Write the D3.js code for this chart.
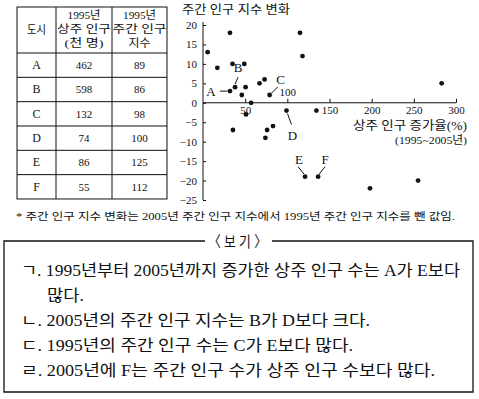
<!DOCTYPE html>
<html><head><meta charset="utf-8">
<script src="https://cdn.jsdelivr.net/npm/d3@7"></script>
<style>
html,body{margin:0;padding:0;background:#fff;}
svg{display:block;}
text{font-family:"Liberation Serif","Noto Sans CJK KR",serif;fill:#111;}
</style></head>
<body>
<svg id="c" width="479" height="399"></svg>
<script>
// ---- data ----
const cities = ["A","B","C","D","E","F"];
const residentPop1995 = [462,598,132,74,86,55];
const dayIndex1995 = [89,86,98,100,125,112];
const tableHeaders = [["도시"],["1995년","상주 인구","(천 명)"],["1995년","주간 인구","지수"]];

// scatter: x = resident population growth rate (%), y = change of day index
const growthRate = [5.5,17,32,35,49,32,38,46,50.5,57,51,35.5,67,73,79,83,76,74,99,115,118,134.5,121,136.5,198,255,283];
const indexChange = [13,9,18,10,10,3,4,2,4,0,-3,-7,5,6,2,-6,-7,-9,-2,18,12,-2,-19,-19,-22,-20,5];
// labelled points: index into arrays
const labelled = [{name:"A",i:5},{name:"B",i:6},{name:"C",i:14},{name:"D",i:18},{name:"E",i:22},{name:"F",i:23}];

const xTicks = [50,100,150,200,250,300];
const yTicks = [20,15,10,5,0,-5,-10,-15,-20,-25];

const chartTitle = "주간 인구 지수 변화";
const xTitle1 = "상주 인구 증가율(%)";
const xTitle2 = "(1995~2005년)";
const footnote = "* 주간 인구 지수 변화는 2005년 주간 인구 지수에서 1995년 주간 인구 지수를 뺀 값임.";
const boxTitle = "〈 보 기 〉";
const boxLines = [
  "ㄱ. 1995년부터 2005년까지 증가한 상주 인구 수는 A가 E보다",
  "많다.",
  "ㄴ. 2005년의 주간 인구 지수는 B가 D보다 크다.",
  "ㄷ. 1995년의 주간 인구 수는 C가 E보다 많다.",
  "ㄹ. 2005년에 F는 주간 인구 수가 상주 인구 수보다 많다."
];

const svg = d3.select("#c");
function fit(sel, w){ sel.attr("textLength",w).attr("lengthAdjust","spacingAndGlyphs"); return sel; }

// ---- table ----
const colX = [17,56,112,167];
const rowY = [7,53];
for(let k=1;k<=6;k++) rowY.push(53 + k*24.33);
const tg = svg.append("g");
tg.append("rect").attr("x",colX[0]).attr("y",rowY[0]).attr("width",colX[3]-colX[0]).attr("height",rowY[7]-rowY[0])
  .attr("fill","none").attr("stroke","#111").attr("stroke-width",1);
colX.slice(1,3).forEach(x=>tg.append("line").attr("x1",x).attr("x2",x).attr("y1",rowY[0]).attr("y2",rowY[7]).attr("stroke","#111"));
rowY.slice(1,7).forEach(y=>tg.append("line").attr("x1",colX[0]).attr("x2",colX[3]).attr("y1",y).attr("y2",y).attr("stroke","#111"));
const colC = [0,1,2].map(j=>(colX[j]+colX[j+1])/2);
const headW = [[19],[33,54,39],[33,54,22]];
tableHeaders.forEach((h,j)=>{
  const base = h.length===1 ? [34] : [19,33,47];
  h.forEach((s,k)=>fit(tg.append("text").attr("x",colC[j]).attr("y",base[k]).attr("text-anchor","middle")
    .attr("font-size", h.length===1?12:11).text(s), headW[j][k]));
});
cities.forEach((c,i)=>{
  const y = (rowY[i+1]+rowY[i+2])/2 + 4;
  tg.append("text").attr("x",colC[0]).attr("y",y).attr("text-anchor","middle").attr("font-size",12).text(c);
  tg.append("text").attr("x",colC[1]).attr("y",y).attr("text-anchor","middle").attr("font-size",11).text(residentPop1995[i]);
  tg.append("text").attr("x",colC[2]).attr("y",y).attr("text-anchor","middle").attr("font-size",11).text(dayIndex1995[i]);
});

// ---- scatter ----
const x = d3.scaleLinear().domain([0,300]).range([203,456]);
const y = d3.scaleLinear().domain([-25,20]).range([200,25]);
const cg = svg.append("g");

const ya = cg.append("g").attr("transform",`translate(${x(0)},0)`)
  .call(d3.axisLeft(y).tickValues(yTicks).tickSize(-3).tickSizeOuter(0).tickPadding(6).tickFormat(d=>d<0?"\u2212"+(-d):d));
ya.select(".domain").attr("d",`M0,22V${y(-25)}`);
const xa = cg.append("g").attr("transform",`translate(0,${y(0)})`)
  .call(d3.axisBottom(x).tickValues(xTicks).tickSize(-4).tickSizeOuter(0).tickPadding(3));
xa.select(".domain").attr("d",`M${x(0)},0H${x(300)}`);
[ya,xa].forEach(a=>{a.selectAll("path,line").attr("stroke","#111");a.selectAll("text").attr("font-size",11).attr("font-family","Liberation Serif").attr("fill","#111");});
xa.selectAll(".tick").filter(d=>d===100).select("text").attr("y",-15);

cg.selectAll("circle").data(growthRate).join("circle")
  .attr("cx",d=>x(d)).attr("cy",(d,i)=>y(indexChange[i])).attr("r",2.4).attr("fill","#111");

fit(cg.append("text").attr("x",182).attr("y",14).attr("font-size",12).text(chartTitle),108);
fit(cg.append("text").attr("x",353).attr("y",130).attr("font-size",12).text(xTitle1),114);
fit(cg.append("text").attr("x",395).attr("y",144).attr("font-size",11).text(xTitle2),72);

// annotations: label offset relative to point, leader from label to point
const ann = {
  A:{lx:-19,ly:5,l1:[-10,0],l2:[-2.5,0]},
  B:{lx:3,ly:-15,l1:[3,-10],l2:[0,-3]},
  C:{lx:11,ly:-11,l1:[8,-8],l2:[2,-2]},
  D:{lx:6,ly:29,l1:[5,14],l2:[1,3]},
  E:{lx:-6,ly:-13,l1:[-7,-10],l2:[-1,-2.5]},
  F:{lx:7,ly:-13,l1:[7,-10],l2:[1,-2.5]}
};
labelled.forEach(L=>{
  const px = x(growthRate[L.i]), py = y(indexChange[L.i]), a = ann[L.name];
  cg.append("text").attr("x",px+a.lx).attr("y",py+a.ly).attr("text-anchor","middle").attr("font-size",13).text(L.name);
  cg.append("line").attr("x1",px+a.l1[0]).attr("y1",py+a.l1[1]).attr("x2",px+a.l2[0]).attr("y2",py+a.l2[1])
    .attr("stroke","#111").attr("stroke-width",1);
});

// ---- footnote ----
fit(svg.append("text").attr("x",16).attr("y",220).attr("font-size",10).text(footnote),439);

// ---- box ----
const bx0=4,bx1=473,by0=241,by1=392;
const bg = svg.append("g");
bg.append("path").attr("d",`M205,${by0}H${bx0}V${by1}H${bx1}V${by0}H272`).attr("fill","none").attr("stroke","#111").attr("stroke-width",1.3);
fit(bg.append("text").attr("x",208).attr("y",247).attr("font-size",15).text(boxTitle),59);
const lineX=[21,47,21,21,21], lineY=[276,301,326,351,376], lineW=[439,37,349,332,414];
boxLines.forEach((s,i)=>fit(bg.append("text").attr("x",lineX[i]).attr("y",lineY[i]).attr("font-size",16).text(s),lineW[i]));
</script>
</body></html>
